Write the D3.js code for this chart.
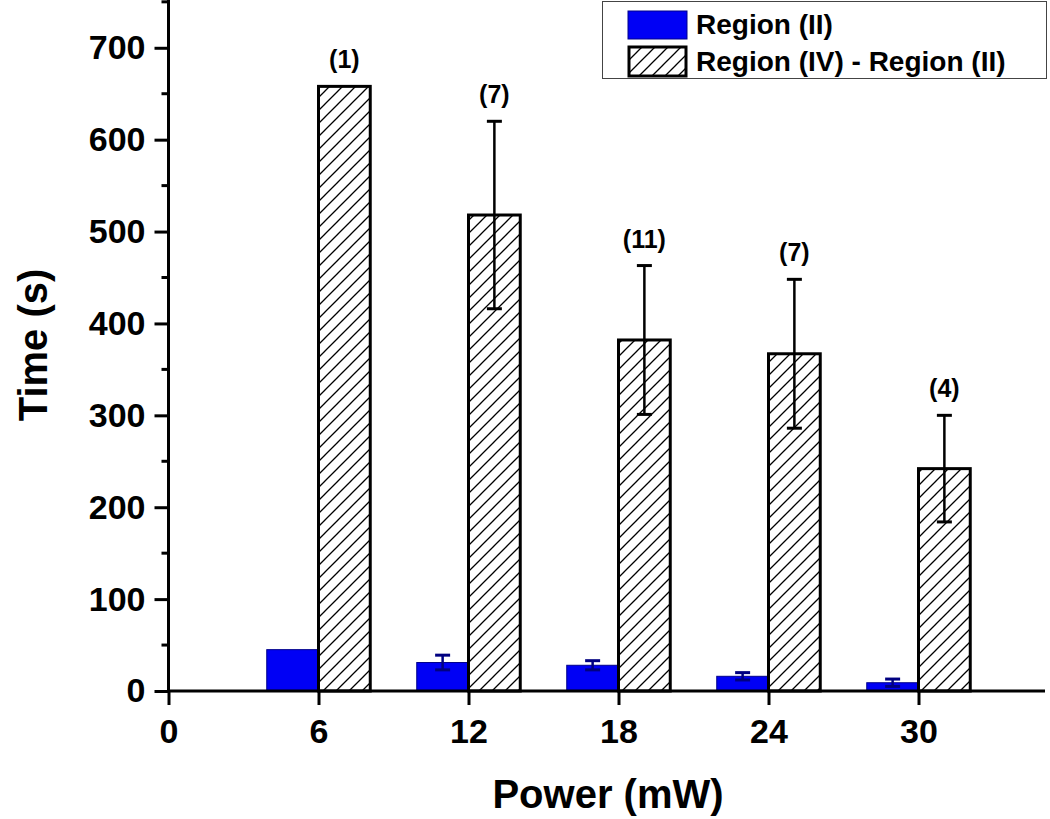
<!DOCTYPE html>
<html><head><meta charset="utf-8">
<script src="https://cdn.jsdelivr.net/npm/d3@7"></script>
<style>body{margin:0;background:#fff}text{font-family:"Liberation Sans",Arial,sans-serif;font-weight:bold}</style>
</head><body>
<script>
const powers = [6, 12, 18, 24, 30];
const regionII = [45, 31, 28, 16, 9];
const regionIIErr = [0, 8, 5, 4, 4];
const diffIV_II = [658, 518, 382, 367, 242];
const diffErr = [0, 102, 81, 81, 58];
const counts = ["(1)", "(7)", "(11)", "(7)", "(4)"];
const xTicks = [0, 6, 12, 18, 24, 30];
const yTicks = [0, 100, 200, 300, 400, 500, 600, 700];
const yMinor = [50, 150, 250, 350, 450, 550, 650, 750];
const legendLabels = ["Region (II)", "Region (IV) - Region (II)"];

const W = 1050, H = 819;
const svg = d3.select("body").append("svg").attr("width", W).attr("height", H);
const x = d3.scaleLinear().domain([0, 35.06]).range([168.5, 1045]);
const y = d3.scaleLinear().domain([0, 752]).range([691, 0]);
const bw = 2.07;

const defs = svg.append("defs");
const pat = defs.append("pattern").attr("id", "hatch").attr("patternUnits", "userSpaceOnUse")
  .attr("width", 13).attr("height", 13);
pat.append("rect").attr("width", 13).attr("height", 13).attr("fill", "#fff");
pat.append("path").attr("d", "M0,13 L13,0 M-4,4 L4,-4 M9,17 L17,9")
  .attr("stroke", "#000").attr("stroke-width", 1.3);

const data = powers.map((p, i) => ({p, b: regionII[i], be: regionIIErr[i], h: diffIV_II[i], he: diffErr[i], c: counts[i]}));

// blue bars
svg.selectAll(".blue").data(data).enter().append("rect")
  .attr("x", d => x(d.p - bw)).attr("width", d => x(d.p) - x(d.p - bw))
  .attr("y", d => y(d.b)).attr("height", d => y(0) - y(d.b))
  .attr("fill", "#0000f5").attr("stroke", "#00008b").attr("stroke-width", 1);
// hatched bars
svg.selectAll(".hat").data(data).enter().append("rect")
  .attr("x", d => x(d.p)).attr("width", d => x(d.p + bw) - x(d.p))
  .attr("y", d => y(d.h)).attr("height", d => y(0) - y(d.h))
  .attr("fill", "url(#hatch)").attr("stroke", "#000").attr("stroke-width", 3);

// error bars
function errs(sel, cx, v, e, color, w) {
  const g = sel.append("g").attr("stroke", color).attr("stroke-width", w);
  g.append("line").attr("x1", cx).attr("x2", cx).attr("y1", y(v - e)).attr("y2", y(v + e));
  g.append("line").attr("x1", cx - 7.5).attr("x2", cx + 7.5).attr("y1", y(v + e)).attr("y2", y(v + e)).attr("stroke-width", 3);
  g.append("line").attr("x1", cx - 7.5).attr("x2", cx + 7.5).attr("y1", y(v - e)).attr("y2", y(v - e)).attr("stroke-width", 3);
}
data.forEach(d => {
  if (d.be > 0) errs(svg, x(d.p - bw / 2), d.b, d.be, "#000080", 2.5);
  if (d.he > 0) errs(svg, x(d.p + bw / 2), d.h, d.he, "#000", 2.5);
  svg.append("text").attr("x", x(d.p + bw / 2)).attr("y", y(d.h + d.he) - 18)
    .attr("text-anchor", "middle").attr("font-size", 25).text(d.c);
});

// axes
const xa = svg.append("g").attr("transform", `translate(0,${y(0)})`)
  .call(d3.axisBottom(x).tickValues(xTicks).tickSize(14).tickPadding(14).tickSizeOuter(0));
const ya = svg.append("g").attr("transform", `translate(${x(0)},0)`)
  .call(d3.axisLeft(y).tickValues(yTicks).tickSize(14).tickPadding(9).tickSizeOuter(0));
ya.selectAll(".minor").data(yMinor).enter().append("line").attr("class", "minor")
  .attr("x1", -7).attr("x2", 0).attr("y1", d => y(d)).attr("y2", d => y(d))
  .attr("stroke", "#000").attr("stroke-width", 3);
[xa, ya].forEach(a => {
  a.select(".domain").attr("stroke-width", 3).attr("stroke", "#000");
  a.selectAll(".tick line").attr("stroke-width", 3).attr("stroke", "#000");
  a.selectAll("text").attr("font-size", 34).attr("font-family", '"Liberation Sans",Arial,sans-serif')
    .attr("font-weight", "bold").attr("fill", "#000");
});
ya.select(".domain").attr("d", `M0,${y(0)}V0`);
xa.select(".domain").attr("d", `M${x(0)},0H1045`);

svg.append("text").attr("x", 608).attr("y", 808).attr("text-anchor", "middle").attr("font-size", 40).text("Power (mW)");
svg.append("text").attr("transform", "translate(47,345) rotate(-90)").attr("text-anchor", "middle").attr("font-size", 40).text("Time (s)");

// legend
const lg = svg.append("g");
lg.append("rect").attr("x", 602.5).attr("y", 1.5).attr("width", 444).attr("height", 77)
  .attr("fill", "#fff").attr("stroke", "#444").attr("stroke-width", 1);
lg.append("rect").attr("x", 628).attr("y", 11).attr("width", 59).attr("height", 28)
  .attr("fill", "#0000f5").attr("stroke", "#00008b").attr("stroke-width", 1);
lg.append("rect").attr("x", 629).attr("y", 47).attr("width", 57).attr("height", 29)
  .attr("fill", "url(#hatch)").attr("stroke", "#000").attr("stroke-width", 3);
lg.selectAll(".lt").data(legendLabels).enter().append("text")
  .attr("x", 696).attr("y", (d, i) => 34 + i * 37).attr("font-size", 28).text(d => d);
</script>
</body></html>
